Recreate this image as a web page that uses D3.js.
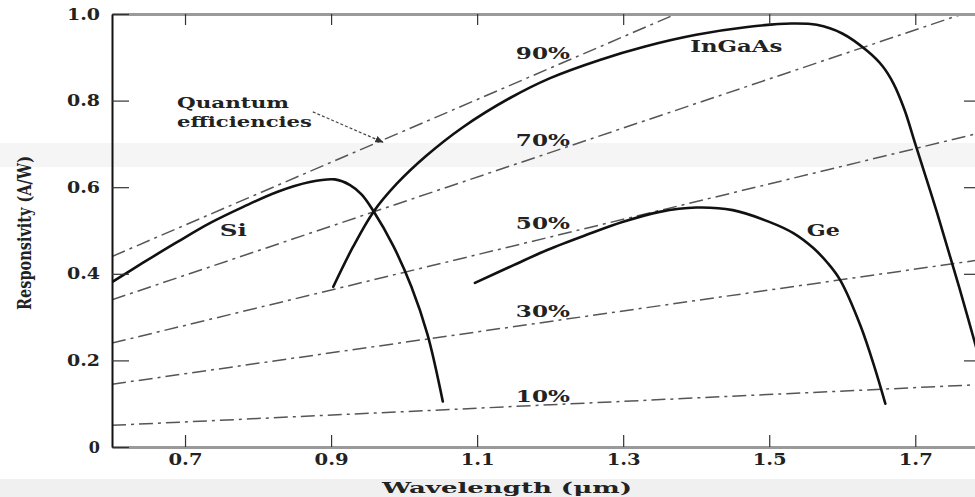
<!DOCTYPE html>
<html>
<head>
<meta charset="utf-8">
<script src="https://cdn.jsdelivr.net/npm/d3@7"></script>
<style>
  body { margin: 0; background: #fff; }
  svg { display: block; }
  text { font-family: "DejaVu Serif", "Liberation Serif", serif; font-weight: bold; fill: #222; }
</style>
</head>
<body>
<script>

// responsivity curves, [wavelength um, A/W]
var siData = [[0.60,0.381],[0.642,0.425],[0.689,0.473],[0.734,0.517],[0.779,0.554],
  [0.826,0.589],[0.871,0.612],[0.905,0.618],[0.926,0.605],[0.942,0.583],[0.958,0.545],
  [0.985,0.465],[1.01,0.37],[1.032,0.26],[1.053,0.105]];

var ingaasData = [[0.903,0.37],[0.93,0.462],[0.958,0.543],[0.99,0.608],[1.03,0.672],
  [1.08,0.738],[1.145,0.806],[1.20,0.852],[1.268,0.894],[1.33,0.925],[1.40,0.952],
  [1.47,0.97],[1.53,0.978],[1.565,0.975],[1.60,0.955],[1.634,0.915],[1.655,0.88],
  [1.67,0.84],[1.685,0.78],[1.70,0.70],[1.73,0.54],[1.76,0.37],[1.79,0.19]];

var geData = [[1.097,0.379],[1.15,0.42],[1.196,0.455],[1.25,0.49],[1.30,0.52],
  [1.35,0.543],[1.40,0.553],[1.45,0.547],[1.50,0.52],[1.533,0.494],[1.56,0.46],
  [1.58,0.425],[1.597,0.386],[1.625,0.28],[1.645,0.18],[1.659,0.10]];

// quantum efficiency lines: value at 0.6 um and at 1.8 um
var effLabels = ["90%", "70%", "50%", "30%", "10%"];
var effStart = [0.44, 0.34, 0.24, 0.145, 0.05];
var effEnd = [1.31, 1.02, 0.73, 0.435, 0.145];

var xTicks = [0.7, 0.9, 1.1, 1.3, 1.5, 1.7];
var xTickLabels = ["0.7", "0.9", "1.1", "1.3", "1.5", "1.7"];
var yTicks = [0, 0.2, 0.4, 0.6, 0.8, 1.0];
var yTickLabels = ["0", "0.2", "0.4", "0.6", "0.8", "1.0"];

var W = 975, H = 497;
var margin = {top: 14, left: 112},
    width = 869,
    height = 433;

var x = d3.scaleLinear().domain([0.6, 1.79]).range([0, width]);
var y = d3.scaleLinear().domain([0, 1]).range([height, 0]);

// the picture uses a very wide bold face, so stretch the text to its width
function stretch(sel, w) {
  sel.attr("textLength", w).attr("lengthAdjust", "spacingAndGlyphs");
}

var svg = d3.select("body").append("svg")
    .attr("width", W)
    .attr("height", H);

// scan artefacts of the picture: pale bands
svg.append("rect").attr("x", 0).attr("y", 479).attr("width", W).attr("height", H - 479)
    .attr("fill", "#f0f0f0");
svg.append("rect").attr("x", 0).attr("y", 143).attr("width", W).attr("height", 24)
    .attr("fill", "#f5f5f5");

var main = svg.append("g")
    .attr("transform", "translate(" + margin.left + "," + margin.top + ")");

main.append("clipPath").attr("id", "plot")
  .append("rect").attr("width", width).attr("height", height);

// efficiency lines (dash-dot)
var g = main.append("g").attr("clip-path", "url(#plot)");
g.selectAll(".eff")
    .data(effLabels)
  .enter().append("line")
    .attr("class", "eff")
    .attr("x1", x(0.6))
    .attr("y1", function(d, i) { return y(effStart[i]); })
    .attr("x2", x(1.8))
    .attr("y2", function(d, i) { return y(effEnd[i]); })
    .attr("stroke", "#555")
    .attr("stroke-width", 1.5)
    .attr("stroke-dasharray", "14,5,3,5");

// curves
var line = d3.line()
    .x(function(d) { return x(d[0]); })
    .y(function(d) { return y(d[1]); })
    .curve(d3.curveCatmullRom.alpha(0.5));

[siData, ingaasData, geData].forEach(function(data) {
  g.append("path")
      .datum(data)
      .attr("d", line)
      .attr("fill", "none")
      .attr("stroke", "#111")
      .attr("stroke-width", 2.6)
      .attr("stroke-linecap", "round");
});

// axes
var xAxis = d3.axisBottom(x)
    .tickValues(xTicks)
    .tickFormat(function(d, i) { return xTickLabels[i]; })
    .tickSizeInner(-12)
    .tickSizeOuter(0)
    .tickPadding(7);

var xg = main.append("g")
    .attr("transform", "translate(0," + height + ")")
    .call(xAxis);
xg.select(".domain").attr("stroke", "#9a9a9a").attr("stroke-width", 3);
xg.selectAll(".tick line").attr("stroke", "#333").attr("stroke-width", 1.2);
xg.selectAll(".tick text").style("font-size", "16px").attr("fill", "#222").call(stretch, 34);

var xTop = d3.axisTop(x)
    .tickValues(xTicks)
    .tickFormat("")
    .tickSizeInner(-11)
    .tickSizeOuter(0);
var xtg = main.append("g").call(xTop);
xtg.select(".domain").attr("stroke", "#9a9a9a").attr("stroke-width", 3);
xtg.selectAll(".tick line").attr("stroke", "#333").attr("stroke-width", 1.2);

var yAxis = d3.axisLeft(y)
    .tickValues(yTicks)
    .tickFormat(function(d, i) { return yTickLabels[i]; })
    .tickSizeInner(-17)
    .tickSizeOuter(0)
    .tickPadding(12);
var yg = main.append("g").call(yAxis);
yg.select(".domain").attr("stroke", "#111").attr("stroke-width", 2);
yg.selectAll(".tick line").attr("stroke", "#333").attr("stroke-width", 1.2);
yg.selectAll(".tick text").style("font-size", "16px").attr("fill", "#222")
  .filter(function(d) { return d > 0; }).call(stretch, 33);

var yRight = d3.axisRight(y)
    .tickValues(yTicks.slice(1, 5))
    .tickFormat("")
    .tickSizeInner(-17)
    .tickSizeOuter(0);
var yrg = main.append("g").attr("transform", "translate(" + width + ",0)").call(yRight);
yrg.select(".domain").attr("stroke", "#9a9a9a").attr("stroke-width", 2);
yrg.selectAll(".tick line").attr("stroke", "#333").attr("stroke-width", 1.2);

// axis titles
svg.append("text")
    .attr("x", 507)
    .attr("y", 493)
    .attr("text-anchor", "middle")
    .style("font-size", "15px")
    .text("Wavelength (\u03bcm)")
    .call(stretch, 250);

svg.append("text")
    .attr("transform", "translate(31,233) rotate(-90)")
    .attr("text-anchor", "middle")
    .style("font-size", "18px")
    .text("Responsivity (A/W)")
    .call(stretch, 154);

// curve labels
var labels = [
  {t: "Si", x: 0.766, y: 0.50, w: 27},
  {t: "InGaAs", x: 1.455, y: 0.926, w: 92},
  {t: "Ge", x: 1.574, y: 0.50, w: 33}
];
main.selectAll(".lab")
    .data(labels)
  .enter().append("text")
    .attr("x", function(d) { return x(d.x) - d.w / 2; })
    .attr("y", function(d) { return y(d.y); })
    .attr("dy", "0.35em")
    .style("font-size", "16px")
    .text(function(d) { return d.t; })
    .attr("textLength", function(d) { return d.w; })
    .attr("lengthAdjust", "spacingAndGlyphs");

// efficiency labels
var effLabelY = [0.91, 0.707, 0.517, 0.314, 0.118];
main.selectAll(".efflab")
    .data(effLabels)
  .enter().append("text")
    .attr("x", x(1.19) - 27)
    .attr("y", function(d, i) { return y(effLabelY[i]); })
    .attr("dy", "0.35em")
    .style("font-size", "16px")
    .text(function(d) { return d; })
    .call(stretch, 54);

// annotation
main.append("text")
    .attr("x", x(0.689))
    .attr("y", y(0.782))
    .style("font-size", "15px")
    .text("Quantum")
    .call(stretch, 112);
main.append("text")
    .attr("x", x(0.689))
    .attr("y", y(0.738))
    .style("font-size", "15px")
    .text("efficiencies")
    .call(stretch, 135);

main.append("defs").append("marker")
    .attr("id", "arr")
    .attr("viewBox", "0 0 10 10")
    .attr("refX", 9).attr("refY", 5)
    .attr("markerWidth", 7).attr("markerHeight", 7)
    .attr("orient", "auto")
  .append("path")
    .attr("d", "M0,1L10,5L0,9z")
    .attr("fill", "#333");

main.append("line")
    .attr("x1", x(0.875)).attr("y1", y(0.774))
    .attr("x2", x(0.971)).attr("y2", y(0.704))
    .attr("stroke", "#444")
    .attr("stroke-width", 1.2)
    .attr("stroke-dasharray", "3,2")
    .attr("marker-end", "url(#arr)");

</script>
</body>
</html>
